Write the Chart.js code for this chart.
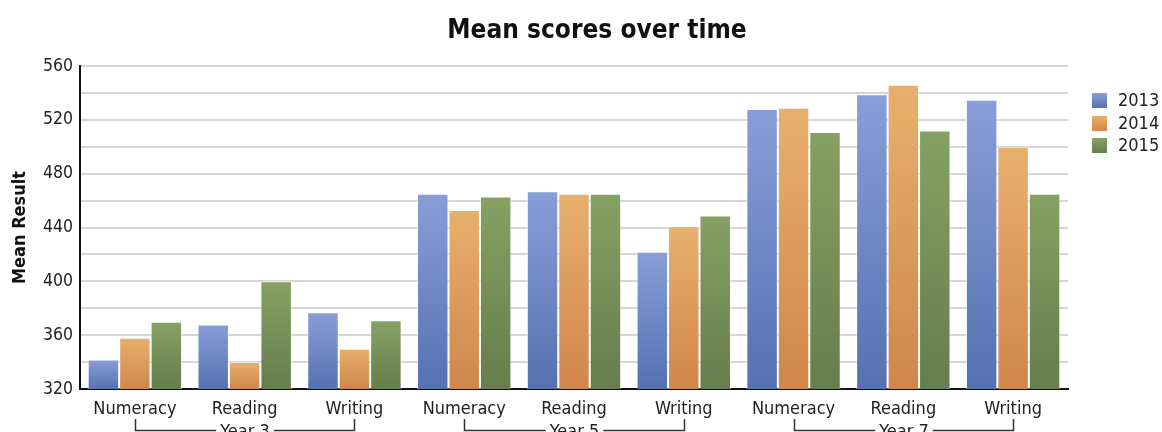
<!DOCTYPE html>
<html><head><meta charset="utf-8">
<script src="https://cdn.jsdelivr.net/npm/chart.js@4.4.1/dist/chart.umd.min.js"></script>
<style>html,body{margin:0;padding:0;background:#fff;overflow:hidden;} #wrap{width:1162px;height:432px;position:relative;}</style>
</head><body><div id="wrap"><canvas id="c" width="1162" height="432"></canvas></div>
<script>
const chartTitle = 'Mean scores over time';
const yTitle = 'Mean Result';
const categories = ['Numeracy','Reading','Writing','Numeracy','Reading','Writing','Numeracy','Reading','Writing'];
const groups = ['Year 3','Year 5','Year 7'];
const seriesNames = ['2013','2014','2015'];
const values2013 = [342, 368, 377, 465, 467, 422, 528, 539, 535];
const values2014 = [358, 340, 350, 453, 465, 441, 529, 546, 500];
const values2015 = [370, 400, 371, 463, 465, 449, 511, 512, 465];
const yLabelTicks = [320, 360, 400, 440, 480, 520, 560];

const FONT = "'DejaVu Sans Condensed', 'DejaVu Sans', sans-serif";
const TXT = '#222';
const palettes = [
  ['#889ed8', '#5671b0'],
  ['#e7b06d', '#d0864b'],
  ['#86a163', '#667d4d']
];
const seriesValues = [values2013, values2014, values2015];

function barGradient(si) {
  return function(ctx) {
    const chart = ctx.chart;
    const area = chart.chartArea;
    const ys = chart.scales && chart.scales.y;
    if (!area || !ys || ctx.raw === undefined) return palettes[si][1];
    const top = ys.getPixelForValue(ctx.raw);
    const g = chart.ctx.createLinearGradient(0, top, 0, area.bottom);
    g.addColorStop(0, palettes[si][0]);
    g.addColorStop(1, palettes[si][1]);
    return g;
  };
}

const datasets = seriesNames.map((name, i) => ({
  label: name,
  data: seriesValues[i],
  backgroundColor: barGradient(i),
  borderColor: 'rgba(255,255,255,0.55)',
  borderWidth: 1,
  categoryPercentage: 0.86,
  barPercentage: 1.0
}));

const overlay = {
  id: 'overlay',
  afterDraw(chart) {
    const c = chart.ctx;
    const xs = chart.scales.x;
    c.save();
    c.fillStyle = '#111';
    c.font = 'bold 26px ' + FONT;
    c.textAlign = 'center';
    c.textBaseline = 'alphabetic';
    c.fillText(chartTitle, 597, 38);
    c.font = '18px ' + FONT;
    c.strokeStyle = '#333';
    c.lineWidth = 1.5;
    groups.forEach((gname, gi) => {
      const x1 = Math.round(xs.getPixelForValue(gi * 3)) + 0.5;
      const x2 = Math.round(xs.getPixelForValue(gi * 3 + 2)) + 0.5;
      const cx = (x1 + x2) / 2;
      const tw = c.measureText(gname).width;
      const yl = 430.5, yt = 419;
      c.beginPath();
      c.moveTo(x1, yt); c.lineTo(x1, yl); c.lineTo(cx - tw / 2 - 4, yl);
      c.moveTo(cx + tw / 2 + 4, yl); c.lineTo(x2, yl); c.lineTo(x2, yt);
      c.stroke();
      c.fillStyle = TXT;
      c.textAlign = 'center';
      c.textBaseline = 'alphabetic';
      c.fillText(gname, cx, 437);
    });
    const ly = [100, 123, 145];
    seriesNames.forEach((name, i) => {
      const g = c.createLinearGradient(0, ly[i] - 7, 0, ly[i] + 8);
      g.addColorStop(0, palettes[i][0]);
      g.addColorStop(1, palettes[i][1]);
      c.fillStyle = g;
      c.fillRect(1092, ly[i] - 7, 15, 15);
      c.fillStyle = TXT;
      c.font = '18px ' + FONT;
      c.textAlign = 'left';
      c.textBaseline = 'middle';
      c.fillText(name, 1118, ly[i] + 1);
    });
    c.restore();
  }
};

new Chart(document.getElementById('c'), {
  type: 'bar',
  data: { labels: categories, datasets: datasets },
  options: {
    responsive: false,
    animation: false,
    devicePixelRatio: 1,
    layout: { padding: { top: 66, right: 94, left: 0, bottom: 0 } },
    plugins: { legend: { display: false }, title: { display: false }, tooltip: { enabled: false } },
    scales: {
      x: {
        grid: { display: false, drawTicks: false },
        border: { display: true, color: '#111', width: 2 },
        ticks: { color: TXT, font: { family: FONT, size: 18 }, padding: 10, maxRotation: 0, autoSkip: false },
        afterFit(s) { s.height = 43; }
      },
      y: {
        min: 320, max: 560,
        grid: { color: '#d6d6d6', lineWidth: 2, drawTicks: false },
        border: { display: true, color: '#111', width: 2 },
        ticks: {
          stepSize: 20, color: TXT, padding: 7, font: { family: FONT, size: 17.5 },
          callback: v => yLabelTicks.includes(v) ? String(v) : ''
        },
        title: { display: true, text: yTitle, color: '#111', font: { family: FONT, size: 18, weight: 'bold' }, padding: { top: 10, bottom: 0 } },
        afterFit(s) { s.width = 80; }
      }
    }
  },
  plugins: [overlay]
});
</script>
</body></html>
